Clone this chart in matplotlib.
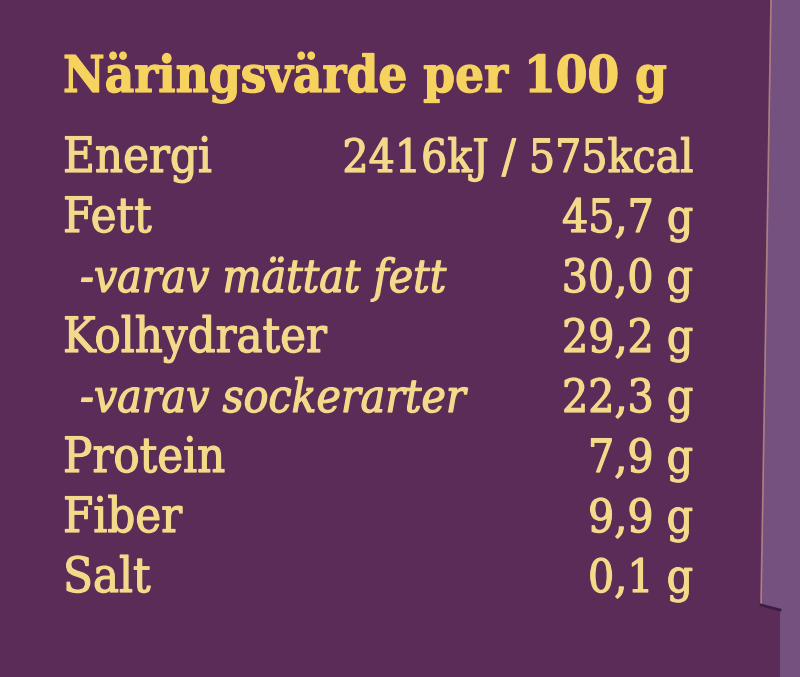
import matplotlib.pyplot as plt
import matplotlib.patheffects as pe
from matplotlib.patches import Polygon

# Nutrition table content
title = "Näringsvärde per 100 g"
labels = ["Energi", "Fett", "-varav mättat fett", "Kolhydrater",
          "-varav sockerarter", "Protein", "Fiber", "Salt"]
values = ["2416kJ / 575kcal", "45,7 g", "30,0 g", "29,2 g",
          "22,3 g", "7,9 g", "9,9 g", "0,1 g"]
sub_rows = [False, False, True, False, True, False, False, False]

BG = "#5c2c58"
STRIP = "#74517e"
TEXT = "#f3da8a"
TITLE = "#f6d25e"
FONT = "DejaVu Serif"

W, H = 800, 677
fig = plt.figure(figsize=(W / 100, H / 100), dpi=100)
ax = fig.add_axes([0, 0, 1, 1])
ax.set_xlim(0, W)
ax.set_ylim(H, 0)
ax.axis("off")
fig.patch.set_facecolor(BG)

# cardboard edge on the right
ax.add_patch(Polygon([(771, 0), (800, 0), (800, 677), (780, 677), (780, 610),
                      (761, 605)], closed=True, facecolor=STRIP, edgecolor="none"))
ax.plot([771, 761], [0, 605], color="#c89a8a", lw=1.2, alpha=0.7)
ax.plot([761, 780], [605, 610], color="#3a1f40", lw=2)

thick = [pe.withStroke(linewidth=0.9, foreground=TEXT)]

ax.text(63, 92, title, fontsize=36.5, fontweight="bold", color=TITLE,
        family=FONT, fontstretch="condensed", va="baseline", ha="left",
        path_effects=[pe.withStroke(linewidth=0.9, foreground=TITLE)])

row_h = 60
for i, (lab, val, sub) in enumerate(zip(labels, values, sub_rows)):
    y = 172 + i * row_h
    ax.text(80 if sub else 63, y, lab, fontsize=33 if sub else 35, color=TEXT,
            family=FONT, fontstretch="condensed",
            style="italic" if sub else "normal",
            va="baseline", ha="left", path_effects=thick)
    ax.text(693, y, val, fontsize=33, color=TEXT, family=FONT,
            fontstretch="condensed", va="baseline", ha="right",
            path_effects=thick)

fig.savefig("out.png", dpi=100, facecolor=BG)
